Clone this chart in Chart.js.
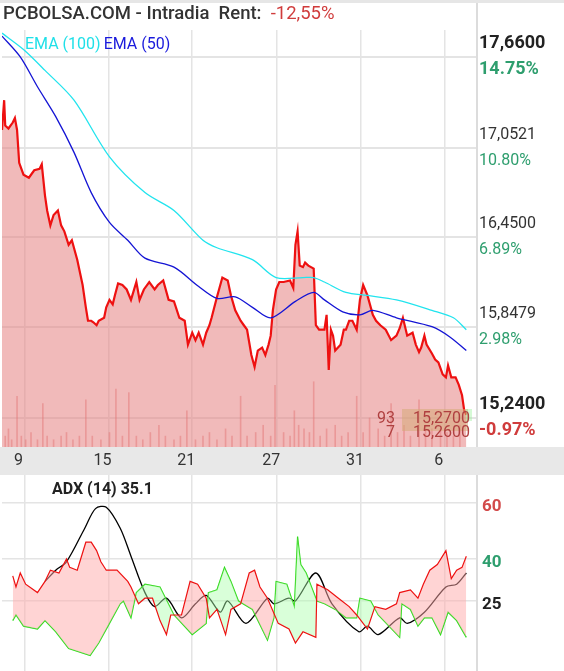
<!DOCTYPE html>
<html><head><meta charset="utf-8">
<script src="https://cdn.jsdelivr.net/npm/chart.js@4"></script>
<style>
body{margin:0;background:#fff;font-family:Roboto,sans-serif;}
#wrap{position:relative;width:564px;height:671px;overflow:hidden;}
#title{position:absolute;left:3px;top:2px;font-size:18.5px;font-weight:500;color:#333;white-space:pre;}
#c1{position:absolute;left:0;top:0;}
#c2{position:absolute;left:0;top:475px;}
#topline{position:absolute;left:0;top:0;width:564px;height:3px;background:#e6e6e6;}
</style></head><body>
<div id="wrap">
<canvas id="c1" width="564" height="475"></canvas>
<canvas id="c2" width="564" height="196"></canvas>
<div id="topline"></div>
<div id="title">PCBOLSA.COM - Intradia  Rent:  <span style="color:#d03c3c;font-weight:400">-12,55%</span></div>
</div>
<script>
// ---- data ----
const dayLabels = ['9','15','21','27','31','6'];
const dayPos = [21,99,177,256,334,412];
const priceTicks = [17.66,17.0521,16.45,15.8479,15.24];
const priceTickText = ['17,6600','17,0521','16,4500','15,8479','15,2400'];
const pctText = ['14.75%','10.80%','6.89%','2.98%','-0.97%'];
const priceX = [0,2,3,6,10,12,14,16,20,25,30,35,37,40,42,45,48,52,55,58,62,65,70,75,78,80,83,85,88,90,95,97,100,103,105,108,112,116,120,125,128,132,137,142,145,150,155,160,165,170,173,177,180,183,187,190,193,195,200,205,210,213,217,222,225,228,232,235,238,242,245,248,250,252,255,258,262,268,271,273,275,277,280,282,285,290,292,295,300,302,304,306,308,310,315,318,320,323,326,330,333,336,340,345,348,352,357,362,367,370,373,377,382,385,388,390,393,395,400,403,406,410,413,415,418,422,425,428,430,432];
const priceY = [17.17,17.37,17.20,17.18,17.22,17.25,17.17,16.95,16.87,16.85,16.90,16.91,16.94,16.73,16.63,16.53,16.60,16.63,16.53,16.49,16.40,16.43,16.30,16.13,15.98,15.89,15.89,15.88,15.86,15.89,15.91,15.98,16.03,16.00,16.06,16.14,16.13,16.10,16.03,16.15,16.03,16.10,16.15,16.10,16.13,16.16,16.03,16.02,15.91,15.89,15.73,15.81,15.76,15.81,15.73,15.81,15.86,15.91,16.05,16.18,16.16,16.06,15.96,15.89,15.86,15.83,15.66,15.58,15.69,15.71,15.66,15.73,15.79,15.96,16.10,16.15,16.15,16.16,16.11,16.40,16.49,16.26,16.25,16.28,16.26,16.24,15.86,15.83,15.83,15.93,15.56,15.83,15.79,15.69,15.73,15.83,15.83,15.89,15.89,15.83,16.03,16.13,16.06,15.93,15.89,15.86,15.83,15.76,15.79,15.84,15.91,15.79,15.81,15.73,15.68,15.71,15.79,15.73,15.67,15.63,15.61,15.53,15.51,15.59,15.51,15.51,15.46,15.39,15.29,15.26];
const ema100X = [0,20,40,67,100,133,160,187,200,233,255,280,290,300,320,340,367,400,420,432];
const ema100Y = [17.82,17.71,17.57,17.37,16.99,16.75,16.63,16.43,16.38,16.30,16.18,16.18,16.18,16.15,16.08,16.06,16.03,15.96,15.91,15.83];
const ema50X = [0,17,33,50,67,83,100,117,133,160,183,200,217,233,250,273,290,300,317,333,345,367,400,417,432];
const ema50Y = [17.80,17.66,17.46,17.26,17.02,16.75,16.55,16.43,16.31,16.25,16.12,16.04,16.05,15.98,15.91,16.02,16.08,16.03,15.95,15.93,15.96,15.91,15.85,15.78,15.69];
const volX = [3,6,9,14,18,22,27,33,38,42,48,55,60,66,72,78,84,92,100,106,112,118,125,131,138,146,152,160,166,172,180,187,193,200,208,214,222,228,236,243,250,254,262,268,272,276,281,286,290,296,302,310,316,322,330,336,342,350,356,362,368,374,380,388,394,400,408,414,420,426];
const volY = [3,5,2,14,3,2,4,2,12,3,2,3,4,2,3,13,3,2,4,16,3,15,3,2,4,6,3,2,3,10,2,3,4,2,5,3,14,3,4,6,3,17,4,3,10,6,5,4,18,3,5,6,3,4,14,4,8,5,3,12,4,6,3,13,6,5,5,4,3,6];
const adxRedX = [10,13,17,22,33,40,45,53,60,63,70,78,83,88,92,97,107,117,120,127,133,140,147,153,157,167,175,182,190,193,200,208,213,222,230,235,240,247,257,267,273,280,292,293,303,313,323,330,340,347,357,367,370,380,387,392,398,405,413,418,423,428,432];
const adxRedY = [34,30,35,31,28,32,36,35,40,37,36,46,46,43,39,36,36,32,30,24,26,26,18,13,20,20,32,31,26,19,22,13,22,24,35,36,30,26,17,15,10,14,12,31,29,26,23,20,15,23,22,24,28,29,26,31,36,38,43,33,36,37,41];
const adxGreenX = [10,13,20,33,40,50,62,82,90,100,110,113,120,125,133,147,160,177,190,192,200,207,213,220,233,247,253,255,265,272,275,278,283,293,300,310,320,330,333,343,350,360,370,372,380,387,393,400,408,415,423,432];
const adxGreenY = [18,20,16,15,18,14,8,5.5,10,17,24,25,19,28,31,30,20,13,17,28,29,37,32,25,22,11,19,32,31,23,48,38,35,25,24,22,19,19,26,25,20,16,12,24,22,16,19,19,13,21,18,12];
const adxX = [40,50,60,77,87,97,110,120,133,142,153,167,180,190,203,210,227,247,253,267,273,292,307,332,340,350,370,377,393,413,423,432];
const adxY = [32,36,39,51,58,58.5,51,41,28,23,26,19,24,27,21,25,17,26,24,26,25,35,24,14,16,13,19,17,21,30,31,35];
const adxTicks = [25,40,60];

const pts = (xs, ys) => xs.map((x,i)=>({x, y: ys[i]}));
const GRID = '#e4e4e4';
const xScale = (showGrid) => ({
  type:'linear', min:0, max:441, offset:false,
  afterBuildTicks: s => { s.ticks = dayPos.map(v=>({value:v})); },
  afterFit: s => { s.height = showGrid ? 28 : 0; },
  ticks:{display:false},
  grid:{color:GRID, lineWidth:1.5, drawTicks:false, offset:false},
  border:{display:false}
});

const topPlugin = {
  id:'topdeco',
  beforeDraw(c){
    const ctx=c.ctx, a=c.chartArea;
    ctx.save();
    ctx.fillStyle='#e8e8e8';
    ctx.fillRect(0,a.bottom,564,28);
    ctx.restore();
  },
  afterDraw(c){
    const ctx=c.ctx, a=c.chartArea, ys=c.scales.y, xs=c.scales.x;
    ctx.save();
    ctx.fillStyle='#dcdcdc'; ctx.fillRect(a.right,0,2,a.bottom);
    ctx.fillStyle='#333'; ctx.font='16px Roboto'; ctx.textAlign='center'; ctx.textBaseline='middle';
    dayLabels.forEach((l,i)=>ctx.fillText(l, xs.getPixelForValue(dayPos[i])-6, a.bottom+14));
    ctx.textAlign='left';
    priceTicks.forEach((v,i)=>{
      const y=ys.getPixelForValue(v);
      const bold = (i===0||i===4);
      ctx.font = bold ? 'bold 18px Roboto' : '16px Roboto';
      ctx.fillStyle = bold ? '#222' : '#333';
      ctx.fillText(priceTickText[i], a.right+3, y-13);
      ctx.fillStyle = i===4 ? '#d03c3c' : '#2e9e6e';
      ctx.fillText(pctText[i], a.right+3, y+13);
    });
    ctx.font='16px Roboto'; ctx.textBaseline='middle';
    ctx.fillStyle='#20e0e8'; ctx.fillText('EMA (100)', 25, 45);
    const w=ctx.measureText('EMA (100)').width;
    ctx.fillStyle='#1a1adc'; ctx.fillText('EMA (50)', 25+w+3, 45);
    ctx.fillStyle='rgba(214,170,120,0.55)'; ctx.fillRect(402,409,66,22);
    ctx.fillStyle='rgba(150,240,150,0.4)'; ctx.fillRect(466,409,6,12);
    ctx.font='16px Roboto'; ctx.fillStyle='#b04040'; ctx.textAlign='right';
    ctx.fillText('93',395,419); ctx.fillText('7',395,433);
    ctx.fillText('15,2700',470,419); ctx.fillText('15,2600',470,433);
    ctx.restore();
  }
};

new Chart(document.getElementById('c1'), {
  data:{datasets:[
    {type:'line', data:pts(ema100X,ema100Y), borderColor:'#22e4ee', borderWidth:1.3, pointRadius:0, tension:0.3, order:2},
    {type:'line', data:pts(ema50X,ema50Y), borderColor:'#1414d4', borderWidth:1.3, pointRadius:0, tension:0.3, order:3},
    {type:'line', data:pts(priceX,priceY), borderColor:'#ee1111', borderWidth:2.2, pointRadius:0, fill:'start', backgroundColor:'rgba(230,130,130,0.55)', order:4},
    {type:'bar', data:pts(volX,volY), yAxisID:'yv', backgroundColor:'rgba(225,110,110,0.5)', barThickness:1, order:5}
  ]},
  options:{
    responsive:false, animation:false, events:[],
    layout:{padding:{top:30,left:2,right:0,bottom:0}},
    plugins:{legend:{display:false}, tooltip:{enabled:false}},
    scales:{
      x: xScale(true),
      y:{position:'right', min:15.043, max:17.841,
        afterBuildTicks: s => { s.ticks = priceTicks.map(v=>({value:v})); },
        afterFit: s => { s.width = 88; },
        ticks:{display:false}, grid:{color:GRID, lineWidth:2, drawTicks:false}, border:{display:false}},
      yv:{display:false, min:0, max:115}
    }
  },
  plugins:[topPlugin]
});

const botPlugin = {
  id:'botdeco',
  afterDraw(c){
    const ctx=c.ctx, a=c.chartArea, ys=c.scales.y;
    ctx.save();
    ctx.fillStyle='#dcdcdc'; ctx.fillRect(a.right,0,2,196);
    ctx.font='bold 16px Roboto'; ctx.fillStyle='#222'; ctx.textBaseline='middle'; ctx.textAlign='left';
    ctx.fillText('ADX (14) 35.1', 52, 15);
    const cols={60:'#d24a4a',40:'#2e9e6e',25:'#222'};
    ctx.font='bold 17px Roboto';
    adxTicks.forEach(v=>{ ctx.fillStyle=cols[v]; ctx.fillText(String(v), a.right+6, ys.getPixelForValue(v)+4); });
    ctx.restore();
  }
};

new Chart(document.getElementById('c2'), {
  data:{datasets:[
    {type:'line', data:pts(adxRedX,adxRedY), borderColor:'#ee1111', borderWidth:1.2, pointRadius:0,
      fill:{target:1, above:'rgba(255,170,170,0.5)', below:'rgba(170,255,170,0.45)'}},
    {type:'line', data:pts(adxGreenX,adxGreenY), borderColor:'#22dd11', borderWidth:1.2, pointRadius:0},
    {type:'line', data:pts(adxX,adxY), borderColor:'#000', borderWidth:1.3, pointRadius:0, tension:0.3}
  ]},
  options:{
    responsive:false, animation:false, events:[],
    layout:{padding:{top:0,left:2,right:0,bottom:0}},
    plugins:{legend:{display:false}, tooltip:{enabled:false}},
    scales:{
      x: xScale(false),
      y:{position:'right', min:0, max:70,
        afterBuildTicks: s => { s.ticks = adxTicks.map(v=>({value:v})); },
        afterFit: s => { s.width = 88; },
        ticks:{display:false}, grid:{color:GRID, lineWidth:1.5, drawTicks:false}, border:{display:false}}
    }
  },
  plugins:[botPlugin]
});
</script>
</body></html>
